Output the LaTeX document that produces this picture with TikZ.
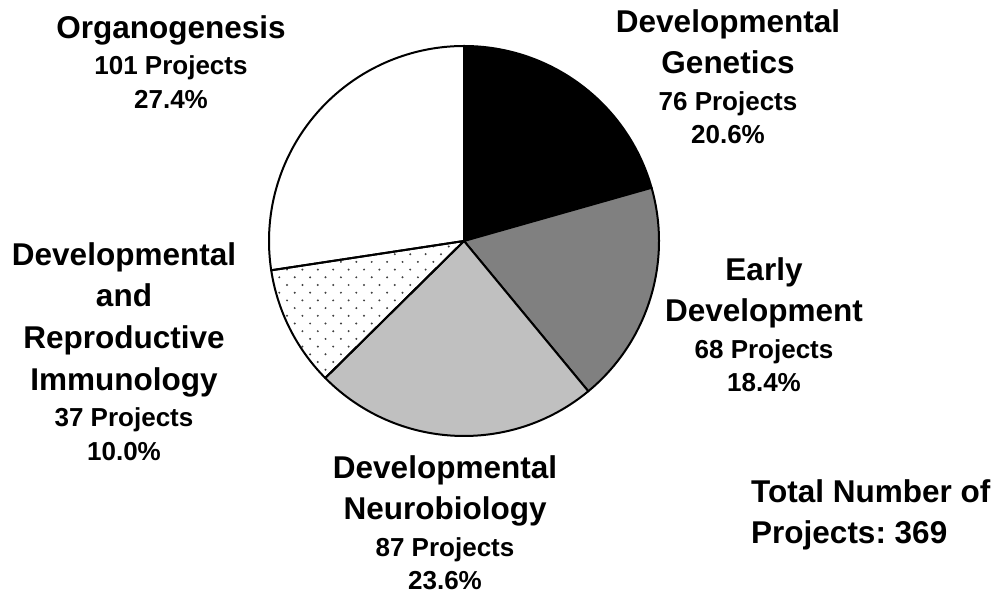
\documentclass[tikz,border=0pt]{standalone}
\usepackage{fontspec}
\setmainfont{Liberation Sans}
\usetikzlibrary{positioning}
\frenchspacing
\definecolor{midgray}{HTML}{808080}
\definecolor{lightgray}{HTML}{C0C0C0}
\definecolor{dotgray}{HTML}{404040}
\tikzset{
  slice/.style={draw=black, line width=2pt, line join=round},
  label/.style={font=\fontsize{31.5}{41.7}\selectfont\bfseries, align=center, inner sep=0pt, anchor=north},
}
\newcommand{\cnt}[2]{\\[-5pt]{\fontsize{26}{26}\selectfont #1}\\[-8.4pt]{\fontsize{26}{26}\selectfont #2}}
\begin{document}
\begin{tikzpicture}[x=1pt,y=1pt]
  \useasboundingbox (0,0) rectangle (1000,594);
  \coordinate (c) at (464,353);
  \def\rad{195}
  % slices, clockwise from the top
  \filldraw[slice, fill=black] (c) -- ++(90:\rad) arc[start angle=90, end angle=15.84, radius=\rad] -- cycle;
  \filldraw[slice, fill=midgray] (c) -- ++(15.84:\rad) arc[start angle=15.84, end angle=-50.4, radius=\rad] -- cycle;
  \filldraw[slice, fill=lightgray] (c) -- ++(-50.4:\rad) arc[start angle=-50.4, end angle=-135.36, radius=\rad] -- cycle;
  \filldraw[slice, fill=white] (c) -- ++(-171.36:\rad) arc[start angle=-171.36, end angle=-270, radius=\rad] -- cycle;
  % dotted slice
  \begin{scope}
    \clip (c) -- ++(-135.36:\rad) arc[start angle=-135.36, end angle=-171.36, radius=\rad] -- cycle;
    \foreach \i in {0,...,22}
      \foreach \j in {0,...,14}
        \fill[dotgray] ({248.5+\j*15.4+mod(\i+1,2)*7.7}, {594-238.8-\i*7.7}) circle (1.1pt);
  \end{scope}
  \draw[slice] (c) -- ++(-135.36:\rad) arc[start angle=-135.36, end angle=-171.36, radius=\rad] -- cycle;

  % labels
  \node[label] (organo) at (171,579) {Organogenesis\cnt{101 Projects}{27.4\%}};
  \node[label] (genetics) at (728,585) {Developmental\\Genetics\cnt{76 Projects}{20.6\%}};
  \node[label] (early) at (764,337) {Early\\Development\cnt{68 Projects}{18.4\%}};
  \node[label] (neuro) at (445,139) {Developmental\\Neurobiology\cnt{87 Projects}{23.6\%}};
  \node[label] (immuno) at (124,352) {Developmental\\and\\Reproductive\\Immunology\cnt{37 Projects}{10.0\%}};
  \node[label, align=left, anchor=north west] (total) at (751,115) {Total Number of\\Projects: 369};
\end{tikzpicture}
\end{document}
